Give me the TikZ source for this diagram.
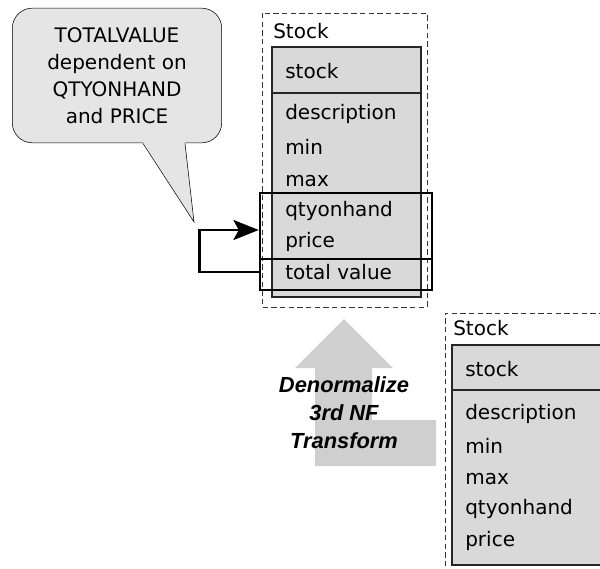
\documentclass[tikz,border=0pt]{standalone}
\usepackage{fontspec}
\setmainfont{DejaVu Sans}
\newfontfamily\notefont{Liberation Sans}
\usetikzlibrary{arrows.meta,fit,calc}

\tikzset{
 grp/.style={thin,dash pattern=on 4pt off 2.5pt,black!80},
 tbl/.style={fill=black!15,draw=black!85,line width=0.8pt},
 fld/.style={anchor=west,inner sep=0pt,text height=10pt,text depth=0pt,font=\fontsize{15}{18}\selectfont},
 hlbox/.style={draw,line width=1.9pt,inner sep=0pt},
 loopline/.style={line width=1.9pt,-{Stealth[length=19pt,width=15pt,inset=4pt]}},
 callout/.style={draw,fill=black!10,thin,rounded corners=15pt,align=center,minimum width=157pt,minimum height=101pt,font=\fontsize{15}{20.3}\selectfont},
 bigarrow/.style={fill=black!19}
}

\begin{document}
\begin{tikzpicture}[x=0.75pt,y=-0.75pt]
 \clip (0,0) rectangle (600,568);
 % upper entity
 \draw[grp] (262,13) rectangle (427,307);
 \node[fld] (uptitle) at (273,32) {Stock};
 \draw[tbl] (272,47) rectangle (421,297);
 \draw[black!85,line width=0.8pt] (272,93) -- (421,93);
 \node[fld] (upkey) at (285,72) {stock};
 \foreach \f/\y [count=\i] in {description/113,min/148,max/180,qtyonhand/210,price/241,total value/273}
  \node[fld] (up\i) at (285,\y) {\f};
 \node[hlbox,fit={(260,193) (432,259)}] (dep) {};
 \node[hlbox,fit={(260,259) (432,290)}] (tv) {};
 \draw[loopline] ($(tv.west)+(0,-2.5)$) -- ++(-59,0) |- ($(dep.west)+(0,4)$);
 % note
 \node[callout] (note) at (117,75.5) {TOTALVALUE\\dependent on\\QTYONHAND\\and PRICE};
 \fill[black!10] (143,141.8) -- (194,222) -- (185,141.8) -- cycle;
 \draw[thin] (143,143.4) -- (194,222) -- (185,143.4);
 % transform arrow
 \fill[bigarrow] (315,466) -- (436,466) -- (436,420) -- (372,420) -- (372,368) -- (393,368) -- (344,319) -- (295,368) -- (315,368) -- cycle;
 \node[align=center,inner sep=0pt,font=\notefont\fontsize{16.4}{21}\selectfont\bfseries\itshape] (xform) at (344,413)
  {Denormalize\\3rd NF\\Transform};
 % lower entity
 \draw[grp] (445,575) |- (610,313);
 \node[fld] (lotitle) at (453,329) {Stock};
 \draw[tbl] (452,345) rectangle (610,565);
 \draw[black!85,line width=0.8pt] (452,390) -- (610,390);
 \node[fld] (lokey) at (465,370) {stock};
 \foreach \f/\y [count=\i] in {description/413,min/447,max/478,qtyonhand/508,price/540}
  \node[fld] (lo\i) at (465,\y) {\f};
\end{tikzpicture}
\end{document}
